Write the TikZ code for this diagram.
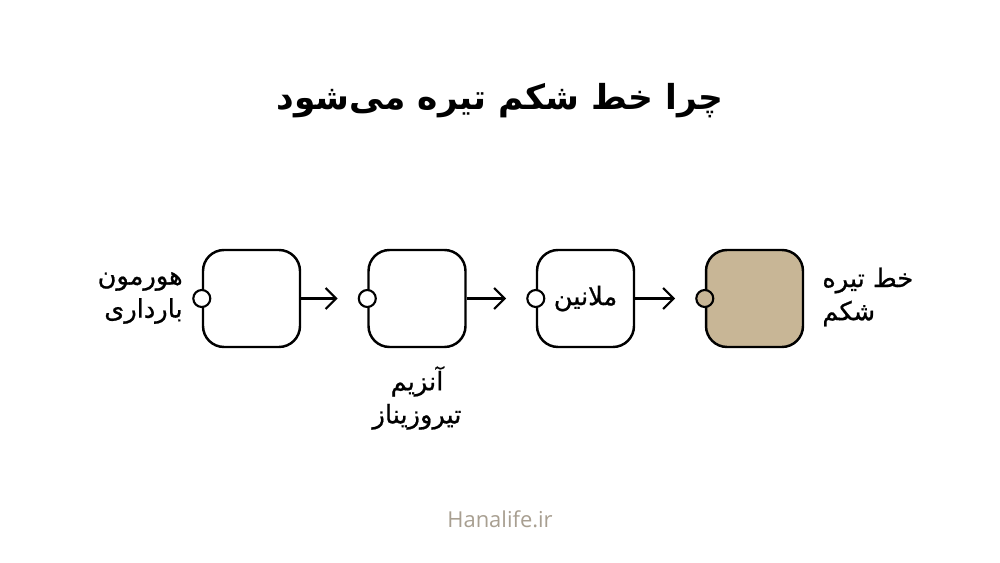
\documentclass[tikz,border=0pt]{standalone}
\usepackage{fontspec}
\usetikzlibrary{arrows.meta}
\TeXXeTstate=1
\newfontfamily\arabicfont[Script=Arabic]{DejaVu Sans}
\newfontfamily\arabicmed[Script=Arabic, FakeBold=0.8]{DejaVu Sans}
\setsansfont{Open Sans}
\newcommand{\fa}[1]{{\arabicfont\beginR #1\endR}}
\newcommand{\fm}[1]{{\arabicmed\beginR #1\endR}}
\definecolor{tan}{RGB}{200,182,150}
\definecolor{brand}{RGB}{168,159,145}
\tikzset{
  box/.style={draw=black, line width=1.4pt, rounded corners=0.42cm, minimum width=1.94cm, minimum height=1.94cm, inner sep=0pt, fill=white},
  port/.style={circle, draw=black, line width=1.2pt, minimum size=0.34cm, inner sep=0pt, fill=white},
  flow/.style={line width=1.3pt, -{Straight Barb[length=6pt, width=12pt, line width=1.3pt]}, shorten >=0.4cm},
  lbl/.style={font=\fontsize{14.6}{18.8}\selectfont, align=right, inner sep=0pt},
}
\begin{document}
\begin{tikzpicture}[x=0.02cm, y=-0.02cm]
\useasboundingbox (0,0) rectangle (1000,563);
\node[font=\fontsize{19.6}{24}\selectfont\bfseries, inner sep=0pt] (title) at (500,101) {\fa{چرا خط شکم تیره می‌شود}};
\node[box] (b1) at (251.5,298.5) {};
\node[box] (b2) at (417,298.5) {};
\node[box] (b3) at (585.5,298.5) {\fm{\fontsize{14.6}{18}\selectfont ملانین}};
\node[box, fill=tan] (b4) at (754.5,298.5) {};
\node[port] (p1) at (b1.west) {};
\node[port] (p2) at (b2.west) {};
\node[port] (p3) at (b3.west) {};
\node[port, fill=tan] (p4) at (b4.west) {};
\draw[flow] (b1.east) -- (p2.west);
\draw[flow] (b2.east) -- (p3.west);
\draw[flow] (b3.east) -- (p4.west);
\node[lbl, anchor=east] (l1) at (183,298) {\fm{هورمون}\\\fm{بارداری}};
\node[lbl, align=center] (l2) at (417,398) {\fm{آنزیم}\\\fm{تیروزیناز}};
\node[lbl, anchor=west, align=left] (l4) at (822,297) {\fm{خط تیره}\\\fm{شکم}};
\node[font=\sffamily\fontsize{12.5}{14}\selectfont, text=brand, inner sep=0pt] (brandname) at (500,519) {Hanalife.ir};
\end{tikzpicture}
\end{document}
